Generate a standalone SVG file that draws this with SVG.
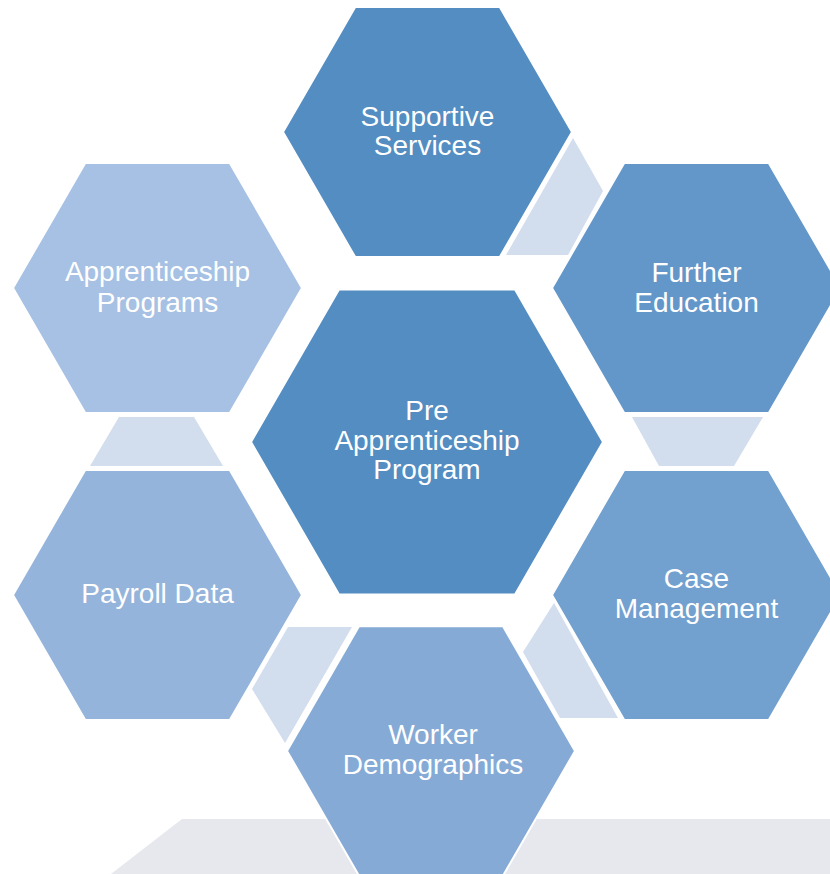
<svg xmlns="http://www.w3.org/2000/svg" width="830" height="874" viewBox="0 0 830 874">
<style>
.hex{stroke:#FFFFFF;stroke-width:2;stroke-linejoin:miter}
.con{fill:#D2DDEE}
.lbl{font-family:"Liberation Sans",Arial,sans-serif;font-size:28px;fill:#FFFFFF;text-anchor:middle}
</style>
<rect width="830" height="874" fill="#FFFFFF"/>
<polygon id="floor" points="182,819 830,819 830,874 111,874" fill="#E7E8EE"/>
<g id="connectors">
<polygon class="con" points="573,138 603,191 568,255 506,255"/>
<polygon class="con" points="632,417 763,417 734,466 659,466"/>
<polygon class="con" points="554,603 618,718 560,718 523,652"/>
<polygon class="con" points="288,627 352,627 285,743 252,689"/>
<polygon class="con" points="119,417 194,417 223,466 90,466"/>
</g>
<g id="supportive-services">
<polygon class="hex" fill="#538DC2" points="283,132 355.25,6.9 499.75,6.9 572,132 499.75,257.1 355.25,257.1"/>
<text class="lbl" x="427.5" y="126">Supportive</text>
<text class="lbl" x="427.5" y="155">Services</text>
</g>
<g id="further-education">
<polygon class="hex" fill="#6497C9" points="552,288 624.25,162.9 768.75,162.9 841,288 768.75,413.1 624.25,413.1"/>
<text class="lbl" x="696.5" y="282">Further</text>
<text class="lbl" x="696.5" y="312">Education</text>
</g>
<g id="case-management">
<polygon class="hex" fill="#72A0CF" points="552,595 624.25,469.9 768.75,469.9 841,595 768.75,720.1 624.25,720.1"/>
<text class="lbl" x="696.5" y="588">Case</text>
<text class="lbl" x="696.5" y="618">Management</text>
</g>
<g id="worker-demographics">
<polygon class="hex" fill="#85AAD5" stroke-width="3" points="287,751 359,626.3 503,626.3 575,751 503,875.7 359,875.7"/>
<text class="lbl" x="433" y="744">Worker</text>
<text class="lbl" x="433" y="774">Demographics</text>
</g>
<g id="payroll-data">
<polygon class="hex" fill="#94B4DB" points="13,595 85.25,469.9 229.75,469.9 302,595 229.75,720.1 85.25,720.1"/>
<text class="lbl" x="157.5" y="603">Payroll Data</text>
</g>
<g id="apprenticeship-programs">
<polygon class="hex" fill="#A6C1E3" points="13,288 85.25,162.9 229.75,162.9 302,288 229.75,413.1 85.25,413.1"/>
<text class="lbl" x="157.5" y="281">Apprenticeship</text>
<text class="lbl" x="157.5" y="312">Programs</text>
</g>
<g id="pre-apprenticeship-program">
<polygon class="hex" fill="#538DC2" points="251,442 339,289.6 515,289.6 603,442 515,594.4 339,594.4"/>
<text class="lbl" x="427" y="420">Pre</text>
<text class="lbl" x="427" y="450">Apprenticeship</text>
<text class="lbl" x="427" y="479">Program</text>
</g>
</svg>
